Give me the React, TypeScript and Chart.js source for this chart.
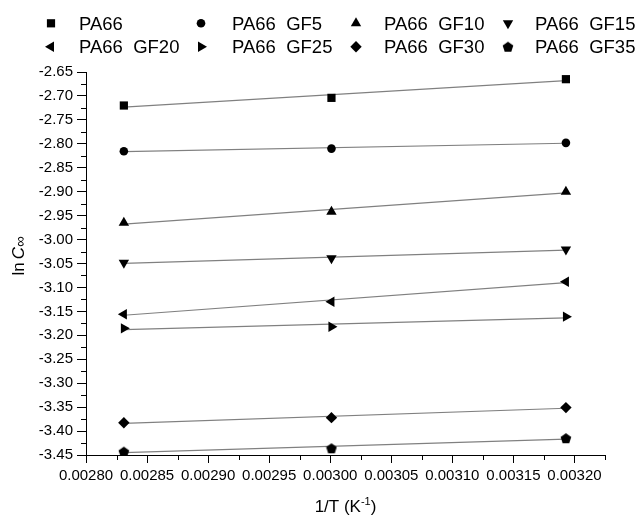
import React, { useEffect, useRef } from 'react';
import { Chart, registerables } from 'chart.js';
import { drawPoint } from 'chart.js/helpers';

Chart.register(...registerables);

// ---------------- data ----------------
const seriesNames = [
  'PA66', 'PA66  GF5', 'PA66  GF10', 'PA66  GF15',
  'PA66  GF20', 'PA66  GF25', 'PA66  GF30', 'PA66  GF35',
];
const invT = [0.002831, 0.003001, 0.003193];
const pa66 = [-2.72, -2.704, -2.665];
const gf5 = [-2.8155, -2.81, -2.798];
const gf10 = [-2.965, -2.942, -2.9];
const gf15 = [-3.0486, -3.039, -3.021];
const gf20 = [-3.156, -3.13, -3.088];
const gf25 = [-3.1855, -3.182, -3.161];
const gf30 = [-3.3825, -3.372, -3.351];
const gf35 = [-3.443, -3.436, -3.415];
const seriesValues = [pa66, gf5, gf10, gf15, gf20, gf25, gf30, gf35];

const xTickValues = [0.0028, 0.00285, 0.0029, 0.00295, 0.003, 0.00305, 0.0031, 0.00315, 0.0032];
const xTickLabels = ['0.00280', '0.00285', '0.00290', '0.00295', '0.00300', '0.00305', '0.00310', '0.00315', '0.00320'];
const xMinorTicks = [0.002825, 0.002875, 0.002925, 0.002975, 0.003025, 0.003075, 0.003125, 0.003175, 0.003225];
const yTickValues = [-3.45, -3.4, -3.35, -3.3, -3.25, -3.2, -3.15, -3.1, -3.05, -3.0, -2.95, -2.9, -2.85, -2.8, -2.75, -2.7, -2.65];
const yTickLabels = ['-3.45', '-3.40', '-3.35', '-3.30', '-3.25', '-3.20', '-3.15', '-3.10', '-3.05', '-3.00', '-2.95', '-2.90', '-2.85', '-2.80', '-2.75', '-2.70', '-2.65'];
const yMinorTicks = [-3.425, -3.375, -3.325, -3.275, -3.225, -3.175, -3.125, -3.075, -3.025, -2.975, -2.925, -2.875, -2.825, -2.775, -2.725, -2.675];

const xMin = 0.0028;
const xMax = 0.003225;
const yMin = -3.45;
const yMax = -2.65;

const FONT = "'Liberation Sans', Arial, sans-serif";

function linFit(xs: number[], ys: number[]) {
  const n = xs.length;
  const mx = xs.reduce((a, b) => a + b, 0) / n;
  const my = ys.reduce((a, b) => a + b, 0) / n;
  let sxy = 0;
  let sxx = 0;
  for (let i = 0; i < n; i++) {
    sxy += (xs[i] - mx) * (ys[i] - my);
    sxx += (xs[i] - mx) * (xs[i] - mx);
  }
  const b = sxy / sxx;
  const a = my - b * mx;
  return [
    { x: xs[0], y: a + b * xs[0] },
    { x: xs[n - 1], y: a + b * xs[n - 1] },
  ];
}

function makePentagon(): HTMLCanvasElement {
  const c = document.createElement('canvas');
  c.width = 12;
  c.height = 12;
  const g = c.getContext('2d')!;
  g.fillStyle = '#000';
  g.beginPath();
  const cx = 6;
  const cy = 6.5;
  const r = 5.6;
  for (let k = 0; k < 5; k++) {
    const ang = -Math.PI / 2 + (k * 2 * Math.PI) / 5;
    const px = cx + r * Math.cos(ang);
    const py = cy + r * Math.sin(ang);
    if (k === 0) g.moveTo(px, py);
    else g.lineTo(px, py);
  }
  g.closePath();
  g.fill();
  return c;
}

export default function App() {
  const ref = useRef<HTMLCanvasElement>(null);

  useEffect(() => {
    if (!ref.current) return;
    const pent = makePentagon();
    const markerStyles: any[] = [
      { pointStyle: 'rect', rotation: 0, radius: 5.8 },
      { pointStyle: 'circle', rotation: 0, radius: 4.3 },
      { pointStyle: 'triangle', rotation: 0, radius: 6 },
      { pointStyle: 'triangle', rotation: 180, radius: 6 },
      { pointStyle: 'triangle', rotation: 270, radius: 6 },
      { pointStyle: 'triangle', rotation: 90, radius: 6 },
      { pointStyle: 'rectRot', rotation: 0, radius: 5.7 },
      { pointStyle: pent, rotation: 0, radius: 6 },
    ];

    const datasets: any[] = [];
    seriesValues.forEach((vals, i) => {
      datasets.push({
        label: seriesNames[i],
        data: invT.map((x, j) => ({ x, y: vals[j] })),
        showLine: false,
        pointStyle: markerStyles[i].pointStyle,
        rotation: markerStyles[i].rotation,
        pointRadius: markerStyles[i].radius,
        pointBackgroundColor: '#000',
        pointBorderColor: '#000',
        pointBorderWidth: 0,
        order: 0,
      });
    });
    seriesValues.forEach((vals, i) => {
      datasets.push({
        label: seriesNames[i] + ' fit',
        data: linFit(invT, vals),
        showLine: true,
        borderColor: '#808080',
        borderWidth: 1.2,
        pointRadius: 0,
        fill: false,
        order: 1,
      });
    });

    const decor = {
      id: 'decor',
      afterDraw(chart: any) {
        const ctx = chart.ctx as CanvasRenderingContext2D;
        const xs = chart.scales.x;
        const ys = chart.scales.y;
        const area = chart.chartArea;
        ctx.save();
        ctx.strokeStyle = '#000';
        ctx.lineWidth = 1;
        // minor ticks
        ctx.beginPath();
        for (const v of xMinorTicks) {
          const px = Math.round(xs.getPixelForValue(v)) + 0.5;
          ctx.moveTo(px, area.bottom);
          ctx.lineTo(px, area.bottom + 5);
        }
        for (const v of yMinorTicks) {
          const py = Math.round(ys.getPixelForValue(v)) + 0.5;
          ctx.moveTo(area.left, py);
          ctx.lineTo(area.left - 5, py);
        }
        ctx.stroke();

        // x title
        ctx.fillStyle = '#000';
        ctx.textBaseline = 'alphabetic';
        const mainFont = `17px ${FONT}`;
        const supFont = `11px ${FONT}`;
        const p1 = '1/T (K';
        const p2 = '-1';
        const p3 = ')';
        ctx.font = mainFont;
        const w1 = ctx.measureText(p1).width;
        const w3 = ctx.measureText(p3).width;
        ctx.font = supFont;
        const w2 = ctx.measureText(p2).width;
        const total = w1 + w2 + w3;
        const cx = (area.left + area.right) / 2;
        let tx = cx - total / 2;
        const base = 512;
        ctx.font = mainFont;
        ctx.fillText(p1, tx, base);
        tx += w1;
        ctx.font = supFont;
        ctx.fillText(p2, tx, base - 7);
        tx += w2;
        ctx.font = mainFont;
        ctx.fillText(p3, tx, base);

        // y title
        ctx.save();
        ctx.translate(24, 256);
        ctx.rotate(-Math.PI / 2);
        const yf = `17px ${FONT}`;
        const yfi = `italic 17px ${FONT}`;
        const yfs = `italic 15px ${FONT}`;
        const a1 = 'ln';
        const a2 = 'C';
        const a3 = '\u221E';
        ctx.font = yf;
        const b1 = ctx.measureText(a1).width;
        const gap = 3;
        ctx.font = yfi;
        const b2 = ctx.measureText(a2).width;
        ctx.font = yfs;
        const b3 = ctx.measureText(a3).width;
        let ty = -(b1 + gap + b2 + b3) / 2;
        ctx.font = yf;
        ctx.fillText(a1, ty, 0);
        ty += b1 + gap;
        ctx.font = yfi;
        ctx.fillText(a2, ty, 0);
        ty += b2;
        ctx.font = yfs;
        ctx.fillText(a3, ty, 1);
        ctx.restore();

        // legend
        const markerX = [51, 201, 356, 508];
        const textX = [79, 232, 384, 535];
        const rowY = [23.3, 46.7];
        ctx.font = `18.5px ${FONT}`;
        ctx.textBaseline = 'alphabetic';
        for (let i = 0; i < seriesNames.length; i++) {
          const r = Math.floor(i / 4);
          const c = i % 4;
          ctx.fillStyle = '#000';
          ctx.strokeStyle = '#000';
          drawPoint(ctx, {
            pointStyle: markerStyles[i].pointStyle,
            rotation: markerStyles[i].rotation,
            radius: markerStyles[i].radius,
            borderWidth: 0,
          } as any, markerX[c], rowY[r]);
          ctx.fillStyle = '#000';
          ctx.fillText(seriesNames[i], textX[c], rowY[r] + 6.6);
        }
        ctx.restore();
      },
    };

    const chart = new Chart(ref.current, {
      type: 'scatter',
      data: { datasets },
      options: {
        animation: false,
        responsive: false,
        devicePixelRatio: 1,
        layout: { padding: { top: 72, right: 36, left: 0, bottom: 0 } },
        plugins: {
          legend: { display: false },
          tooltip: { enabled: false },
        },
        scales: {
          x: {
            type: 'linear',
            min: xMin,
            max: xMax,
            afterBuildTicks: (s: any) => {
              s.ticks = xTickValues.map((v) => ({ value: v }));
            },
            afterFit: (s: any) => {
              s.height = 61;
            },
            ticks: {
              callback: (_v: any, i: number) => xTickLabels[i],
              font: { family: FONT, size: 15 },
              color: '#000',
              maxRotation: 0,
              autoSkip: false,
              padding: 4,
            },
            grid: {
              display: true,
              drawOnChartArea: false,
              drawTicks: true,
              tickLength: 8,
              color: '#000',
            },
            border: { display: true, color: '#000', width: 1 },
          },
          y: {
            type: 'linear',
            min: yMin,
            max: yMax,
            afterBuildTicks: (s: any) => {
              s.ticks = yTickValues.map((v) => ({ value: v }));
            },
            afterFit: (s: any) => {
              s.width = 86;
            },
            ticks: {
              callback: (_v: any, i: number) => yTickLabels[i],
              font: { family: FONT, size: 15 },
              color: '#000',
              autoSkip: false,
              padding: 4,
            },
            grid: {
              display: true,
              drawOnChartArea: false,
              drawTicks: true,
              tickLength: 9,
              color: '#000',
            },
            border: { display: true, color: '#000', width: 1 },
          },
        },
      },
      plugins: [decor],
    });
    return () => chart.destroy();
  }, []);

  return (
    <div style={{ position: 'fixed', left: 0, top: 0, width: 641, height: 516, background: '#fff' }}>
      <canvas ref={ref} width={641} height={516} style={{ display: 'block' }} />
    </div>
  );
}
